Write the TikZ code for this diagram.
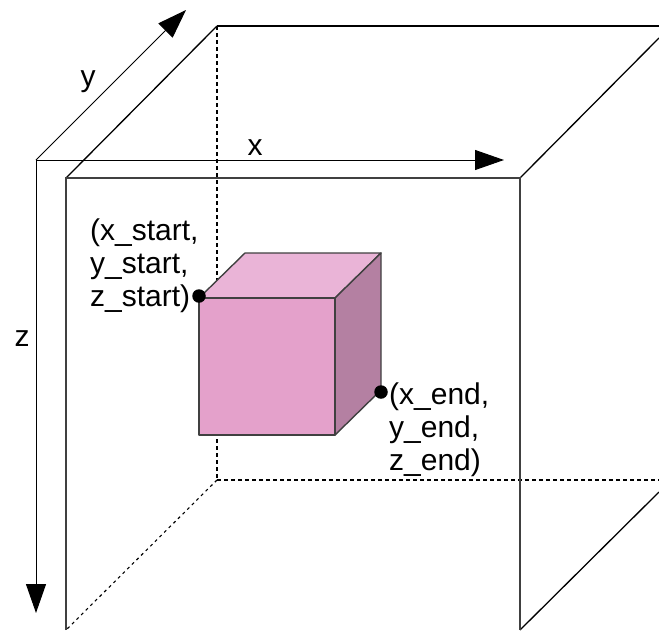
\documentclass[tikz,border=0pt]{standalone}
\usepackage{fontspec}
\setmainfont{Liberation Sans}
\usetikzlibrary{arrows.meta}
\definecolor{cubefront}{HTML}{E4A1CB}
\definecolor{cubetop}{HTML}{EAB4D7}
\definecolor{cubeside}{HTML}{B480A2}
\definecolor{edgegrey}{HTML}{404040}
\tikzset{
  axis/.style={draw=black,line width=1pt,-{Triangle[length=29pt,width=20pt]}},
  solidedge/.style={draw=black,line width=1.3pt},
  frontedge/.style={draw=edgegrey,line width=1.4pt},
  hidden/.style={draw=black,line width=1.1pt,dash pattern=on 4pt off 3pt},
  face/.style={draw=edgegrey,line width=1.4pt,line join=round},
  marker/.style={circle,fill=black,inner sep=0pt,minimum size=13.5pt},
  lbl/.style={font=\fontsize{30pt}{33pt}\selectfont,inner sep=0pt},
  multilbl/.style={lbl,align=left,anchor=north west},
}
\begin{document}
\begin{tikzpicture}[x=1pt,y=-1pt]
\useasboundingbox (0,0) rectangle (659,630);
% frame corners
\coordinate (O) at (36,160);
\coordinate (Ytip) at (186,10);
\coordinate (Xtip) at (504,160);
\coordinate (Ztip) at (36,613);
\coordinate (FTL) at (66,178);
\coordinate (FTR) at (520,178);
\coordinate (FBL) at (66,630);
\coordinate (FBR) at (520,630);
\coordinate (BTL) at (217,26);
\coordinate (BTR) at (659,26);
\coordinate (BBL) at (217,480);
\coordinate (BBR) at (659,480);
\coordinate (RT) at (659,38);
\coordinate (RB) at (659,492);
% cube corners
\coordinate (A) at (199,298);
\coordinate (B) at (335,298);
\coordinate (C) at (335,435);
\coordinate (D) at (199,435);
\coordinate (E) at (245,253);
\coordinate (F) at (381,253);
\coordinate (G) at (381,390);
% hidden edges
\draw[hidden] (BTL) -- (BBL);
\draw[hidden] (BBL) -- (BBR);
\draw[hidden,dash pattern=on 3pt off 3.5pt] (BBL) -- (FBL);
% solid frame
\draw[solidedge] (FTL) -- (BTL);
\draw[solidedge] (BTL) -- (BTR);
\draw[solidedge] (FTR) -- (RT);
\draw[solidedge] (FBR) -- (RB);
\draw[frontedge] (FBL) -- (FTL) -- (FTR) -- (FBR);
% axes
\draw[axis] (O) -- (Ytip);
\draw[axis] (O) -- (Xtip);
\draw[axis] (O) -- (Ztip);
% cube
\draw[face,fill=cubetop] (A) -- (E) -- (F) -- (B) -- cycle;
\draw[face,fill=cubeside] (B) -- (F) -- (G) -- (C) -- cycle;
\draw[face,fill=cubefront] (A) -- (B) -- (C) -- (D) -- cycle;
% markers
\node[marker] (startpt) at (199,296) {};
\node[marker] (endpt) at (381,392) {};
% labels
\node[lbl] (ylabel) at (88,82) {y};
\node[lbl] (xlabel) at (255,148) {x};
\node[lbl] (zlabel) at (22,339) {z};
\node[multilbl] (startlabel) at (90,219) {(x\_start,\\y\_start,\\z\_start)};
\node[multilbl] (endlabel) at (389,383) {(x\_end,\\y\_end,\\z\_end)};
\end{tikzpicture}
\end{document}
